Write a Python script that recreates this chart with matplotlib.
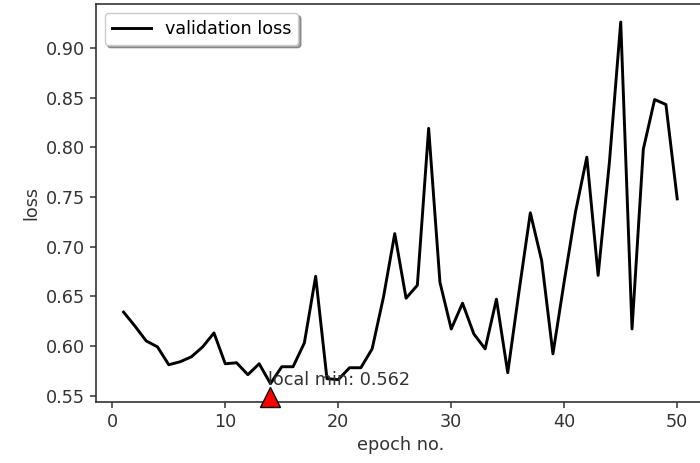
import matplotlib.pyplot as plt
import numpy as np

# validation loss per epoch
epochs = np.arange(1, 51)
val_loss = [0.634, 0.620, 0.605, 0.599, 0.581, 0.584, 0.589, 0.599, 0.613, 0.582,
            0.583, 0.571, 0.582, 0.562, 0.579, 0.579, 0.603, 0.670, 0.567, 0.566,
            0.578, 0.578, 0.597, 0.649, 0.713, 0.648, 0.661, 0.819, 0.664, 0.617,
            0.643, 0.612, 0.597, 0.647, 0.573, 0.655, 0.734, 0.686, 0.592, 0.665,
            0.735, 0.790, 0.671, 0.785, 0.926, 0.617, 0.798, 0.848, 0.843, 0.748]
min_epoch = 14
min_loss = 0.562

plt.rcParams['font.size'] = 12.7

fig = plt.figure(figsize=(7, 4.63), dpi=100)
ax = fig.add_axes([0.137, 0.1324, 0.87, 0.859])

ax.plot(epochs, val_loss, color='black', lw=2.1, label='validation loss')
# y range as autoscale would give for the loss curve alone
lo, hi = min(val_loss), max(val_loss)
pad = 0.05 * (hi - lo)
ax.set_ylim(lo - pad, hi + pad)

# red marker below the local minimum
ax.plot(min_epoch, 0.549, marker='^', color='red', mec='black', mew=1,
        ms=14.5, clip_on=False, zorder=4)
ax.text(13.8, min_loss - 0.001, 'local min: %.3f' % min_loss, ha='left', va='baseline',
        color='#333333')

ax.set_xlabel('epoch no.')
ax.set_ylabel('loss')
ax.set_yticks([0.55, 0.60, 0.65, 0.70, 0.75, 0.80, 0.85, 0.90])
ax.tick_params(length=4.5, width=1.1, colors='#333333', labelcolor='#333333')
for s in ax.spines.values():
    s.set_linewidth(1.2)
    s.set_color('#333333')
ax.xaxis.label.set_color('#333333')
ax.yaxis.label.set_color('#333333')

ax.legend(loc='upper left', shadow=True, handlelength=2.2)

plt.savefig('out.png', dpi=100)
